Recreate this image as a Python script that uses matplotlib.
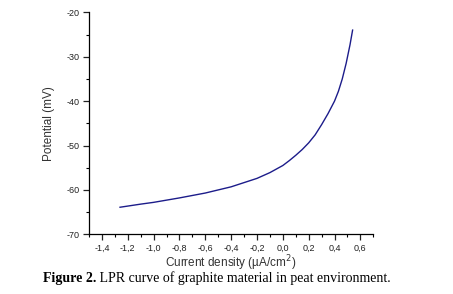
import matplotlib
matplotlib.use("Agg")
import matplotlib.pyplot as plt
from matplotlib.ticker import MultipleLocator, FuncFormatter

# LPR curve
current = [-1.26, -1.1, -1.0, -0.8, -0.6, -0.4, -0.2, -0.1, 0.0, 0.05, 0.1, 0.15, 0.2, 0.25,
           0.3, 0.35, 0.4, 0.43, 0.46, 0.49, 0.52, 0.54]
potential = [-63.9, -63.2, -62.8, -61.8, -60.7, -59.3, -57.4, -56.1, -54.5, -53.4, -52.2, -50.9,
             -49.4, -47.6, -45.3, -42.8, -40.0, -37.8, -35.0, -31.5, -27.3, -24.0]

plt.rcParams['font.family'] = ['Liberation Sans', 'DejaVu Sans']

fig = plt.figure(figsize=(4.53, 2.94), dpi=100)
ax = fig.add_axes([0.1965, 0.203, 0.6275, 0.755])

ax.plot(current, potential, color='#1c1c8a', lw=1.0)

ax.set_xlim(-1.5, 0.7)
ax.set_ylim(-70, -20)
ax.spines['top'].set_visible(False)
ax.spines['right'].set_visible(False)
for s in ('left', 'bottom'):
    ax.spines[s].set_linewidth(0.9)

ax.xaxis.set_minor_locator(MultipleLocator(0.1))
ax.yaxis.set_major_locator(MultipleLocator(10))
ax.yaxis.set_minor_locator(MultipleLocator(5))
ax.set_xticks([-1.4, -1.2, -1.0, -0.8, -0.6, -0.4, -0.2, 0.0, 0.2, 0.4, 0.6])
ax.xaxis.set_major_formatter(FuncFormatter(lambda v, p: f"{v:.1f}".replace('.', ',').replace('-0,0', '0,0')))
ax.yaxis.set_major_formatter(FuncFormatter(lambda v, p: f"{v:.0f}"))
ax.tick_params(which='major', direction='out', length=4, width=0.9, labelsize=6.5, pad=3, colors='#222222')
ax.tick_params(which='minor', direction='out', length=2, width=0.8)

fig.text(0.51, 0.105, "Current density (\u00b5A/cm$^2$)", fontsize=8.5, color='#333333',
         ha='center', va='center')
ax.set_ylabel("Potential (mV)", fontsize=8.5, labelpad=8, color='#333333')

t1 = fig.text(0.095, 0.04, "Figure 2.", fontfamily='Liberation Serif', fontweight='bold', fontsize=10)
ax.annotate(" LPR curve of graphite material in peat environment.", xy=(1, 0), xycoords=t1,
            va='bottom', ha='left', fontfamily='Liberation Serif', fontsize=10)

fig.savefig("out.png", dpi=100)
